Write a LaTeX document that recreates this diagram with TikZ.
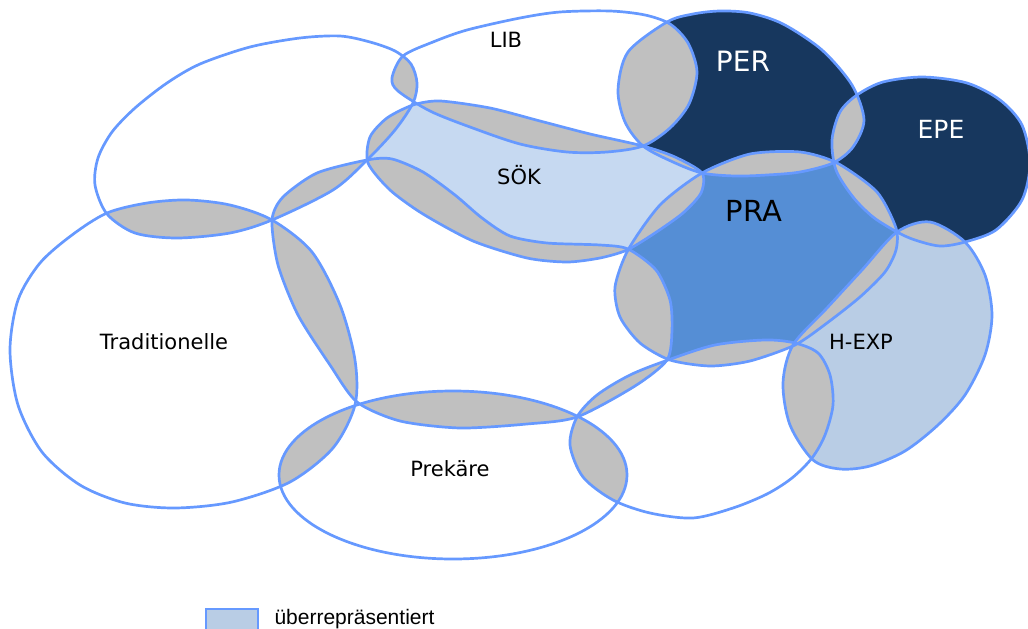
\documentclass[tikz,border=0pt]{standalone}
\usepackage{fontspec}
\setmainfont{DejaVu Sans}
\newfontfamily\legendfont{Liberation Sans}
\usetikzlibrary{positioning}
\definecolor{cline}{RGB}{102,153,255}
\definecolor{cgray}{RGB}{192,192,192}
\definecolor{cnavy}{RGB}{23,55,94}
\definecolor{cmid}{RGB}{85,142,213}
\definecolor{csok}{RGB}{198,217,241}
\definecolor{chexp}{RGB}{185,205,229}

% outlines of the blobs (pixel coordinates, y downwards)
\newcommand{\shpUL}{plot[smooth cycle, tension=0.5] coordinates {(95,185) (98,158) (112,132) (135,108) (167,83) (200,64) (250,47) (300,38) (340,36) (370,42) (395,51) (411,64) (417,83) (413,103) (395,130) (367,160) (333,190) (272,220) (230,233) (177,238) (135,233) (107,214)}}
\newcommand{\shpLIB}{plot[smooth cycle, tension=0.5] coordinates {(392,78) (403,56) (433,42) (467,30) (520,18) (560,12) (610,11) (645,15) (670,24) (688,43) (697,72) (689,104) (670,128) (643,146) (607,152) (567,152) (520,144) (470,127) (430,111) (398,91)}}
\newcommand{\shpPER}{plot[smooth cycle, tension=0.5] coordinates {(667,22) (693,14) (720,11) (750,13) (783,24) (822,50) (852,85) (864,120) (853,147) (833,163) (800,172) (767,175) (735,176) (702,173) (673,162) (643,146) (625,122) (618,90) (628,52)}}
\newcommand{\shpEPE}{plot[smooth cycle, tension=0.5] coordinates {(857,95) (883,82) (923,77) (967,83) (1000,100) (1022,125) (1030,163) (1022,200) (996,230) (965,242) (940,246) (915,240) (897,232) (873,217) (853,197) (836,170) (832,140) (840,112)}}
\newcommand{\shpSOK}{plot[smooth cycle, tension=0.45] coordinates {(413,105) (440,101) (490,108) (540,121) (590,134) (643,146) (675,157) (702,173) (701,193) (683,213) (655,233) (627,250) (600,258) (567,262) (527,258) (473,241) (423,214) (390,190) (368,163) (370,137) (387,118)}}
\newcommand{\shpPRA}{plot[smooth cycle, tension=0.45] coordinates {(702,173) (750,154) (800,152) (837,163) (877,192) (896,228) (896,250) (885,272) (860,297) (827,323) (795,345) (750,361) (710,366) (670,360) (640,343) (620,317) (615,287) (628,250) (660,205)}}
\newcommand{\shpHEXP}{plot[smooth cycle, tension=0.5] coordinates {(897,232) (930,222) (965,242) (985,275) (992,315) (985,355) (965,395) (938,425) (905,451) (870,466) (840,469) (813,460) (790,425) (783,383) (793,345) (827,308) (862,270)}}
\newcommand{\shpLR}{plot[smooth cycle, tension=0.5] coordinates {(577,417) (597,395) (630,375) (668,360) (715,345) (765,340) (795,343) (818,353) (830,375) (833,405) (825,435) (812,458) (792,478) (767,494) (733,508) (693,518) (650,513) (613,500) (583,477) (570,445)}}
\newcommand{\shpPRE}{(453,475) ellipse [x radius=174pt, y radius=84pt]}
\newcommand{\shpTRAD}{plot[smooth cycle, tension=0.5] coordinates {(10,350) (18,300) (40,263) (72,235) (107,213) (147,203) (187,200) (230,205) (272,220) (312,252) (340,305) (355,360) (355,405) (333,448) (290,482) (232,502) (175,508) (125,503) (80,485) (42,452) (18,405)}}
\newcommand{\shpMID}{plot[smooth cycle, tension=0.45] coordinates {(272,220) (283,197) (317,173) (367,160) (392,159) (423,172) (455,195) (482,218) (510,236) (547,243) (600,245) (628,249) (656,270) (670,300) (672,330) (667,360) (635,386) (577,417) (527,424) (460,428) (400,421) (357,402) (330,365) (298,315) (278,265)}}

\begin{document}
\begin{tikzpicture}[
    x=1pt, y=-1pt,
    outline/.style={draw=cline, line width=2.7pt},
    lens/.style={fill=cgray},
    lbl/.style={font=\fontsize{21}{25}\selectfont, anchor=base},
    biglbl/.style={font=\fontsize{28}{32}\selectfont, anchor=base}
  ]
  \useasboundingbox (0,0) rectangle (1028,629);

  % coloured groups
  \fill[csok] \shpSOK;
  \fill[cmid] \shpPRA;
  \fill[cnavy] \shpPER;
  \fill[cnavy] \shpEPE;
  \fill[chexp] \shpHEXP;

  % overlaps
  \foreach \a/\b in {\shpUL/\shpTRAD, \shpUL/\shpLIB, \shpUL/\shpSOK, \shpUL/\shpMID,
                     \shpLIB/\shpSOK, \shpLIB/\shpPER, \shpPER/\shpSOK, \shpPER/\shpPRA,
                     \shpPER/\shpEPE, \shpEPE/\shpPRA, \shpEPE/\shpHEXP, \shpPRA/\shpHEXP,
                     \shpPRA/\shpLR, \shpPRA/\shpMID, \shpPRA/\shpSOK, \shpSOK/\shpMID,
                     \shpHEXP/\shpLR, \shpLR/\shpMID, \shpLR/\shpPRE, \shpPRE/\shpMID,
                     \shpPRE/\shpTRAD, \shpTRAD/\shpMID}
  {
    \begin{scope}
      \clip \a;
      \fill[lens] \b;
    \end{scope}
  }

  % outlines
  \foreach \s in {\shpUL, \shpLIB, \shpPER, \shpEPE, \shpSOK, \shpPRA, \shpHEXP,
                  \shpLR, \shpPRE, \shpTRAD, \shpMID}
    \path[outline] \s;

  % labels
  \node[lbl] (lib) at (506,47) {LIB};
  \node[biglbl, text=white] (per) at (743,71) {PER};
  \node[font=\fontsize{25}{30}\selectfont, anchor=base, text=white] (epe) at (941,138) {EPE};
  \node[font=\fontsize{29}{34}\selectfont, anchor=base] (pra) at (754,221) {PRA};
  \node[lbl] (sok) at (519,184) {SÖK};
  \node[lbl] (hexp) at (861,349) {H-EXP};
  \node[lbl] (trad) at (164,349) {Traditionelle};
  \node[lbl] (pre) at (450,476) {Prekäre};

  % legend
  \node[draw=cline, fill=chexp, line width=2.4pt, minimum width=52pt, minimum height=34pt,
        anchor=north west, inner sep=0pt] (legbox) at (205,608) {};
  \node[font=\legendfont\fontsize{21}{25}\selectfont, anchor=base west] (legtxt) at (271,624) {überrepräsentiert};
\end{tikzpicture}
\end{document}
